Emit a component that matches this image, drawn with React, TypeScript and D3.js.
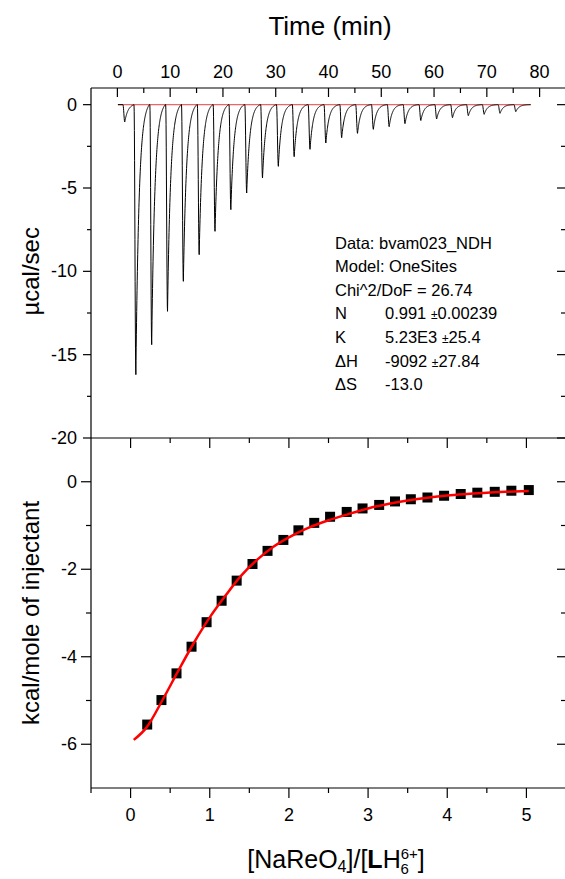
import React from "react";
import * as d3 from "d3";

// ---- Raw thermogram: injection times (min) and peak minima (µcal/sec) ----
const firstInjectionTime = 1.4;
const firstInjectionPeak = -1.04;
const injectionTimes = [
  3.5, 6.5, 9.5, 12.5, 15.5, 18.5, 21.5, 24.5, 27.5, 30.5, 33.5, 36.5, 39.5,
  42.5, 45.5, 48.5, 51.5, 54.5, 57.5, 60.5, 63.5, 66.5, 69.5, 72.5, 75.5,
];
const peakPower = [
  -16.2, -14.4, -12.4, -10.6, -9.0, -7.6, -6.3, -5.3, -4.4, -3.7, -3.12, -2.68,
  -2.3, -1.98, -1.72, -1.48, -1.32, -1.14, -0.95, -0.86, -0.78, -0.66, -0.58,
  -0.52, -0.42,
];
const baselineRange = [0.1, 78.3];

// ---- Integrated heats per injection ----
const molarRatio = [
  0.21, 0.39, 0.58, 0.77, 0.96, 1.15, 1.34, 1.54, 1.73, 1.93, 2.12, 2.32, 2.52,
  2.73, 2.93, 3.14, 3.34, 3.54, 3.75, 3.96, 4.17, 4.38, 4.6, 4.81, 5.03,
];
const injectionHeat = [
  -5.55, -4.99, -4.38, -3.77, -3.21, -2.72, -2.26, -1.88, -1.58, -1.33, -1.11,
  -0.94, -0.8, -0.69, -0.61, -0.53, -0.45, -0.4, -0.36, -0.32, -0.28, -0.25,
  -0.23, -0.205, -0.19,
];

// ---- One-site fit curve ----
const fitRatio = [
  0.04, 0.2, 0.4, 0.6, 0.8, 1.0, 1.2, 1.4, 1.6, 1.8, 2.0, 2.25, 2.5, 2.75, 3.0,
  3.25, 3.5, 3.75, 4.0, 4.25, 4.5, 4.75, 5.03,
];
const fitHeat = [
  -5.9, -5.62, -5.0, -4.33, -3.68, -3.1, -2.6, -2.14, -1.78, -1.49, -1.27,
  -1.05, -0.88, -0.74, -0.61, -0.51, -0.43, -0.365, -0.315, -0.28, -0.25,
  -0.23, -0.213,
];

// ---- Axis ticks ----
const timeTicks = [0, 10, 20, 30, 40, 50, 60, 70, 80];
const timeMinor = [5, 15, 25, 35, 45, 55, 65, 75];
const powerTicks = [0, -5, -10, -15, -20];
const powerMinor = [-2.5, -7.5, -12.5, -17.5];
const ratioTicks = [0, 1, 2, 3, 4, 5];
const ratioMinor = [0.5, 1.5, 2.5, 3.5, 4.5];
const heatTicks = [0, -2, -4, -6];
const heatMinor = [-1, -3, -5];

// ---- Fit report ----
const reportHeader = ["Data: bvam023_NDH", "Model: OneSites", "Chi^2/DoF = 26.74"];
const reportNames = ["N", "K", "\u0394H", "\u0394S"];
const reportValues = ["0.991", "5.23E3 ", "-9092", "-13.0"];
const reportErrors = ["\u00b10.00239", "\u00b125.4", "\u00b127.84", ""];

const W = 565;
const H = 879;
const left = 91;
const right = 566;
const topY = 88;
const midY = 438;
const botY = 788;
const FONT = "Arial, 'Liberation Sans', Helvetica, sans-serif";

const xTime = d3.scaleLinear().domain([-5, 85]).range([left, right]);
const yPower = d3.scaleLinear().domain([-20, 1]).range([midY, topY]);
const xRatio = d3.scaleLinear().domain([-0.5, 5.5]).range([left, right]);
const yHeat = d3.scaleLinear().domain([-7, 1]).range([botY, midY]);

// Thermogram trace: sharp descent into each peak, exponential return to baseline.
function buildTrace(): [number, number][] {
  const peaks: [number, number][] = [
    [firstInjectionTime, firstInjectionPeak],
    ...injectionTimes.map((t, i) => [t, peakPower[i]] as [number, number]),
  ];
  const descent = 0.35;
  const tau = 0.6;
  const pts: [number, number][] = [[baselineRange[0], 0]];
  peaks.forEach(([tp, depth], i) => {
    const next = i + 1 < peaks.length ? peaks[i + 1][0] - descent : baselineRange[1];
    const L = Math.min(2.55, next - tp);
    const t0 = tp - descent;
    pts.push([t0, 0]);
    for (let k = 1; k <= 10; k++) {
      const s = (k / 10) * descent;
      pts.push([t0 + s, depth * Math.pow(Math.sin((Math.PI / 2) * (s / descent)), 2)]);
    }
    const steps = 80;
    for (let k = 1; k <= steps; k++) {
      const s = (k / steps) * L;
      const v = depth * (Math.exp(-s / tau) - Math.exp(-L / tau) * (s / L));
      pts.push([tp + s, v]);
    }
  });
  pts.push([baselineRange[1], 0]);
  return pts;
}

export default function App() {
  const trace = buildTrace();
  const traceLine = d3
    .line<[number, number]>()
    .x((d) => xTime(d[0]))
    .y((d) => yPower(d[1]));
  const fitLine = d3
    .line<number>()
    .x((_, i) => xRatio(fitRatio[i]))
    .y((d) => yHeat(d))
    .curve(d3.curveMonotoneX);

  const tickFont = 18;
  const sq = 10;
  const repX = 335;
  const repValX = 385;
  const repY = 248.5;
  const repStep = 23.6;

  return (
    <svg
      width={W}
      height={H}
      style={{ position: "absolute", left: 0, top: 0, background: "#fff" }}
      fontFamily={FONT}
    >
      <rect x={0} y={0} width={W} height={H} fill="#fff" />

      {/* Top panel: raw heat flow */}
      <line
        x1={xTime(baselineRange[0])}
        x2={xTime(baselineRange[1])}
        y1={yPower(0)}
        y2={yPower(0)}
        stroke="#f06464"
        strokeWidth={1.4}
      />
      <path d={traceLine(trace) || ""} fill="none" stroke="#000" strokeWidth={1} />

      {/* Bottom panel: integrated heats and fit */}
      {molarRatio.map((r, i) => (
        <rect
          key={i}
          x={xRatio(r) - sq / 2}
          y={yHeat(injectionHeat[i]) - sq / 2}
          width={sq}
          height={sq}
          fill="#000"
        />
      ))}
      <path d={fitLine(fitHeat) || ""} fill="none" stroke="#ff0000" strokeWidth={2.5} />

      {/* Frames */}
      <g stroke="#000" strokeWidth={1.2} fill="none">
        <line x1={left} x2={right} y1={topY} y2={topY} />
        <line x1={left} x2={right} y1={midY} y2={midY} />
        <line x1={left} x2={right} y1={botY} y2={botY} />
        <line x1={left} x2={left} y1={topY} y2={botY} />
        <line x1={right} x2={right} y1={topY} y2={botY} />
      </g>

      {/* Time axis (top) */}
      <g stroke="#000" strokeWidth={1.2}>
        {timeTicks.map((t) => (
          <line key={t} x1={xTime(t)} x2={xTime(t)} y1={topY} y2={topY + 9} />
        ))}
        {timeMinor.map((t) => (
          <line key={t} x1={xTime(t)} x2={xTime(t)} y1={topY} y2={topY + 5} />
        ))}
      </g>
      {timeTicks.map((t) => (
        <text key={t} x={xTime(t)} y={78} textAnchor="middle" fontSize={tickFont}>
          {t}
        </text>
      ))}
      <text x={330} y={35} textAnchor="middle" fontSize={26}>
        Time (min)
      </text>

      {/* Power axis (left + right) */}
      <g stroke="#000" strokeWidth={1.2}>
        {powerTicks.map((v) => (
          <g key={v}>
            <line x1={left - 8} x2={left} y1={yPower(v)} y2={yPower(v)} />
            <line x1={right - 9} x2={right} y1={yPower(v)} y2={yPower(v)} />
          </g>
        ))}
        {powerMinor.map((v) => (
          <g key={v}>
            <line x1={left - 4} x2={left} y1={yPower(v)} y2={yPower(v)} />
            <line x1={right - 5} x2={right} y1={yPower(v)} y2={yPower(v)} />
          </g>
        ))}
      </g>
      {powerTicks.map((v) => (
        <text
          key={v}
          x={left - 14}
          y={yPower(v)}
          textAnchor="end"
          dominantBaseline="central"
          fontSize={tickFont}
        >
          {v}
        </text>
      ))}
      <text
        transform={`translate(39, ${yPower(-10)}) rotate(-90)`}
        textAnchor="middle"
        fontSize={24}
      >
        µcal/sec
      </text>

      {/* Fit report */}
      <g fontSize={16.5}>
        {reportHeader.map((s, i) => (
          <text key={s} x={repX} y={repY + i * repStep}>
            {s}
          </text>
        ))}
        {reportNames.map((n, i) => (
          <g key={n}>
            <text x={repX} y={repY + (i + 3) * repStep}>
              {n}
            </text>
            <text x={repValX} y={repY + (i + 3) * repStep}>
              {reportValues[i]}
              {reportErrors[i] && (
                <tspan>
                  {" "}
                  <tspan fontSize={12}>{reportErrors[i][0]}</tspan>
                  {reportErrors[i].slice(1)}
                </tspan>
              )}
            </text>
          </g>
        ))}
      </g>

      {/* Heat axis (left + right) */}
      <g stroke="#000" strokeWidth={1.2}>
        {heatTicks.map((v) => (
          <g key={v}>
            <line x1={left - 10} x2={left} y1={yHeat(v)} y2={yHeat(v)} />
            <line x1={right - 9} x2={right} y1={yHeat(v)} y2={yHeat(v)} />
          </g>
        ))}
        {heatMinor.map((v) => (
          <g key={v}>
            <line x1={left - 5} x2={left} y1={yHeat(v)} y2={yHeat(v)} />
            <line x1={right - 5} x2={right} y1={yHeat(v)} y2={yHeat(v)} />
          </g>
        ))}
      </g>
      {heatTicks.map((v) => (
        <text
          key={v}
          x={left - 14}
          y={yHeat(v)}
          textAnchor="end"
          dominantBaseline="central"
          fontSize={tickFont}
        >
          {v}
        </text>
      ))}
      <text
        transform={`translate(39, ${yHeat(-3)}) rotate(-90)`}
        textAnchor="middle"
        fontSize={24}
      >
        kcal/mole of injectant
      </text>

      {/* Molar ratio axis (inside top of lower panel + bottom) */}
      <g stroke="#000" strokeWidth={1.2}>
        {ratioTicks.map((r) => (
          <g key={r}>
            <line x1={xRatio(r)} x2={xRatio(r)} y1={midY} y2={midY + 10} />
            <line x1={xRatio(r)} x2={xRatio(r)} y1={botY} y2={botY + 10} />
          </g>
        ))}
        {ratioMinor.map((r) => (
          <g key={r}>
            <line x1={xRatio(r)} x2={xRatio(r)} y1={midY} y2={midY + 5} />
            <line x1={xRatio(r)} x2={xRatio(r)} y1={botY} y2={botY + 5} />
          </g>
        ))}
        <line x1={left} x2={left} y1={botY} y2={botY + 5} />
      </g>
      {ratioTicks.map((r) => (
        <text key={r} x={xRatio(r)} y={821} textAnchor="middle" fontSize={tickFont}>
          {r}
        </text>
      ))}
      <text x={336} y={868} textAnchor="middle" fontSize={25}>
        [NaReO
        <tspan fontSize={16} dy={4}>
          4
        </tspan>
        <tspan dy={-4}>]/[</tspan>
        <tspan fontWeight="bold">L</tspan>
        H
        <tspan fontSize={15} dy={-9}>
          6+
        </tspan>
        <tspan fontSize={15} dx={-17.4} dy={15}>
          6
        </tspan>
        <tspan dx={9} dy={-6}>
          ]
        </tspan>
      </text>
    </svg>
  );
}
